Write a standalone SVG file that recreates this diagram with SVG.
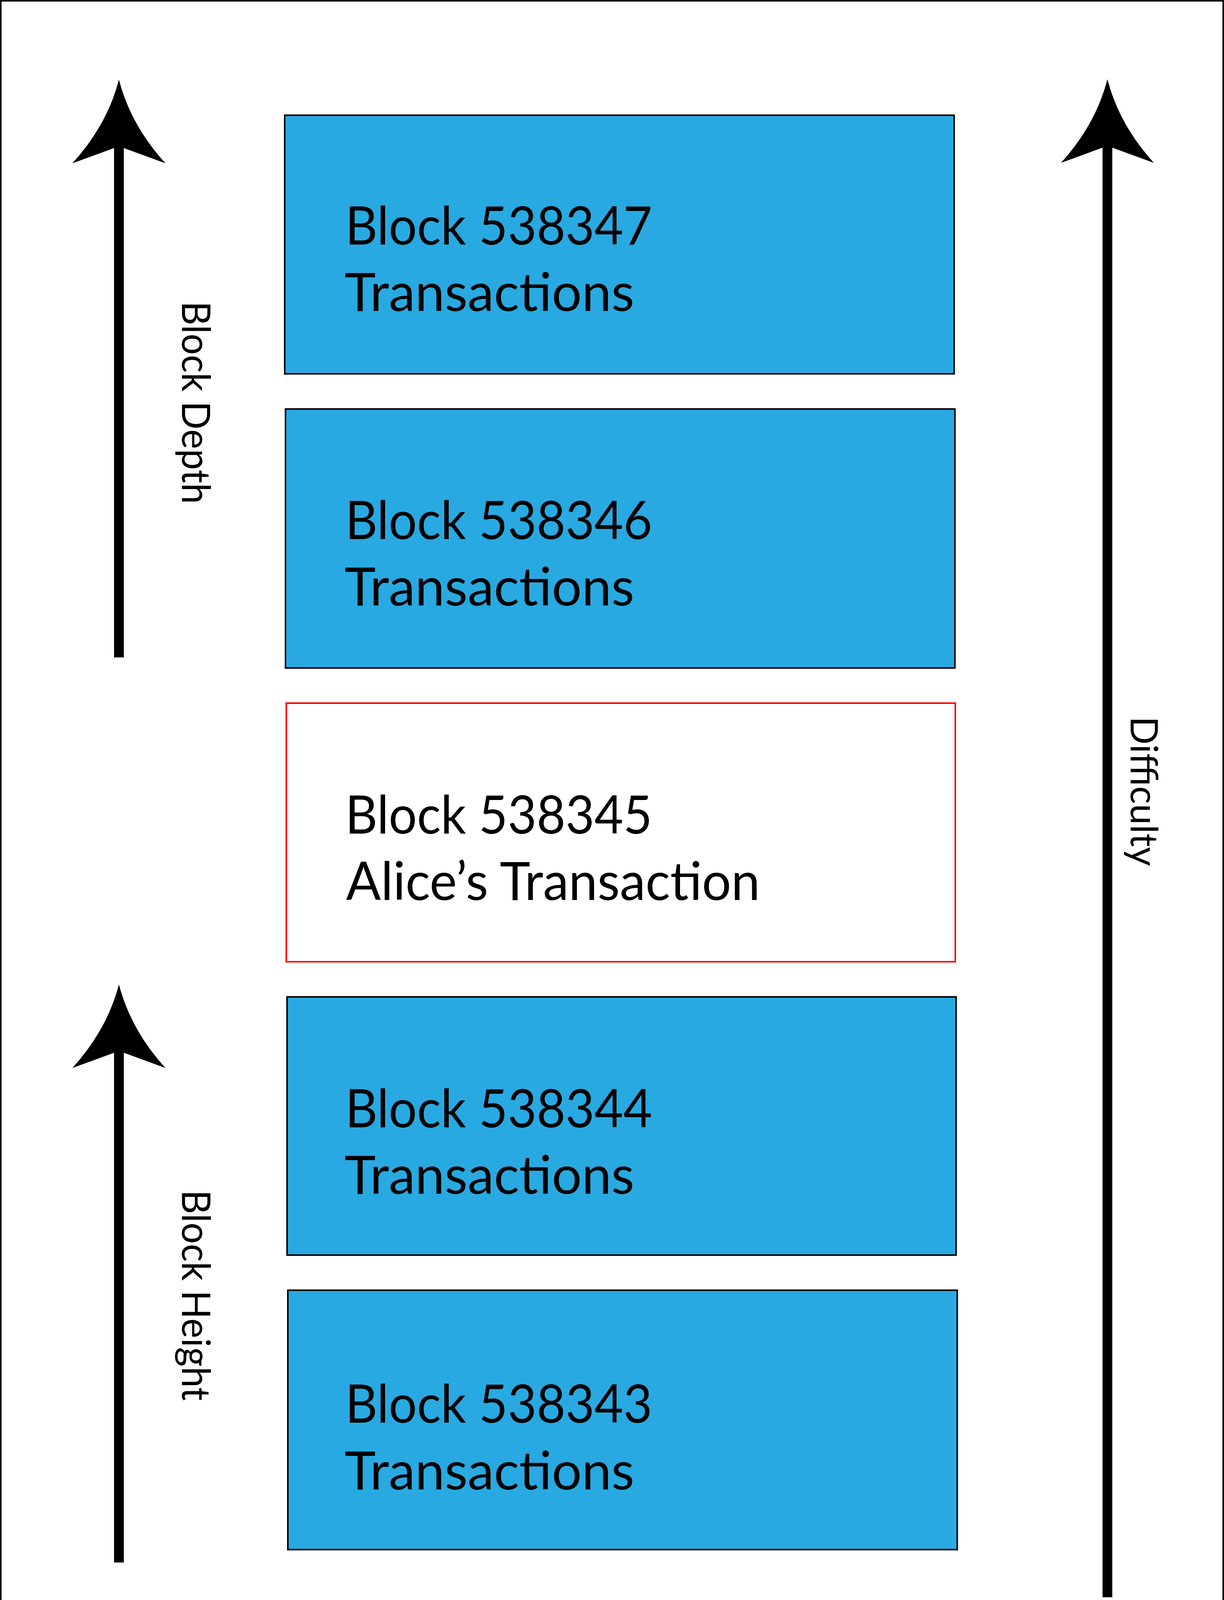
<svg xmlns="http://www.w3.org/2000/svg" xmlns:xlink="http://www.w3.org/1999/xlink" width="3134" height="4201" viewBox="0 0 3134 4201">
<style>
.frame{fill:#ffffff;stroke:#000000;stroke-width:4}
.blk{fill:#29A9E1;stroke:#000000;stroke-width:4}
.alice{fill:#ffffff;stroke:#ff0000;stroke-width:4}
.lbl{font-family:Lato,"Open Sans","Noto Sans",sans-serif;font-size:136px;fill:#000000}
.axis{font-family:Lato,"Open Sans","Noto Sans",sans-serif;font-size:100px;fill:#000000}
.shaft{fill:#000000}
</style>
<defs>
<path id="head" d="M0,0 Q-30,116 -119,214 L-12.5,175 L12.5,175 L119,214 Q30,116 0,0 Z" fill="#000000"/>
</defs>
<rect class="frame" x="2" y="2" width="3130" height="4197"/>

<g id="connectors">
<g id="arrow-depth">
<rect class="shaft" x="292" y="370" width="25" height="1313"/>
<use xlink:href="#head" href="#head" x="304.5" y="204"/>
</g>
<g id="arrow-height">
<rect class="shaft" x="292" y="2686" width="25" height="1314"/>
<use xlink:href="#head" href="#head" x="304.5" y="2520"/>
</g>
<g id="arrow-difficulty">
<rect class="shaft" x="2823" y="370" width="25" height="3719"/>
<use xlink:href="#head" href="#head" x="2835.5" y="203"/>
</g>
</g>

<g id="label-depth">
<text class="axis" transform="translate(466,771) rotate(90)" x="0" y="0" textLength="519" lengthAdjust="spacingAndGlyphs">Block Depth</text>
</g>
<g id="label-height">
<text class="axis" transform="translate(466,3046) rotate(90)" x="0" y="0" textLength="540" lengthAdjust="spacingAndGlyphs">Block Height</text>
</g>
<g id="label-difficulty">
<text class="axis" style="font-size:96px" transform="translate(2895,1834) rotate(90)" x="0" y="0" textLength="383" lengthAdjust="spacingAndGlyphs">Difficulty</text>
</g>

<g id="block-538347">
<rect class="blk" x="729" y="295" width="1714" height="662"/>
<text class="lbl" x="884" y="626" textLength="786" lengthAdjust="spacingAndGlyphs">Block 538347</text>
<text class="lbl" x="882" y="796" textLength="742" lengthAdjust="spacingAndGlyphs">Transactions</text>
</g>
<g id="block-538346">
<rect class="blk" x="731" y="1047" width="1714" height="663"/>
<text class="lbl" x="884" y="1380" textLength="786" lengthAdjust="spacingAndGlyphs">Block 538346</text>
<text class="lbl" x="882" y="1550" textLength="742" lengthAdjust="spacingAndGlyphs">Transactions</text>
</g>
<g id="block-538345">
<rect class="alice" x="733" y="1800" width="1713" height="662"/>
<text class="lbl" x="884" y="2134" textLength="786" lengthAdjust="spacingAndGlyphs">Block 538345</text>
<text class="lbl" x="886" y="2304" textLength="1060" lengthAdjust="spacingAndGlyphs">Alice’s Transaction</text>
</g>
<g id="block-538344">
<rect class="blk" x="735" y="2552" width="1713" height="661"/>
<text class="lbl" x="884" y="2886" textLength="786" lengthAdjust="spacingAndGlyphs">Block 538344</text>
<text class="lbl" x="882" y="3056" textLength="742" lengthAdjust="spacingAndGlyphs">Transactions</text>
</g>
<g id="block-538343">
<rect class="blk" x="737" y="3303" width="1714" height="664"/>
<text class="lbl" x="884" y="3642" textLength="786" lengthAdjust="spacingAndGlyphs">Block 538343</text>
<text class="lbl" x="882" y="3813" textLength="742" lengthAdjust="spacingAndGlyphs">Transactions</text>
</g>
</svg>
